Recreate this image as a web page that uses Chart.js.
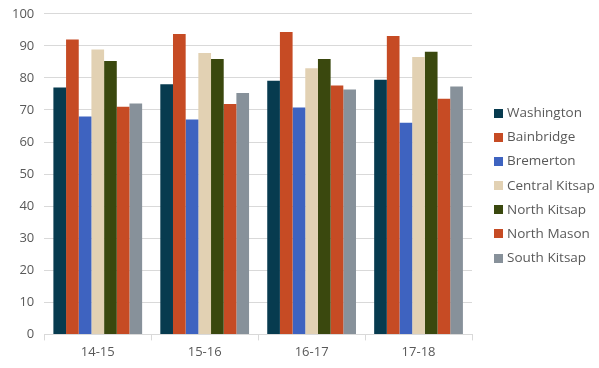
<!DOCTYPE html>
<html>
<head>
<meta charset="utf-8">
<script src="https://cdn.jsdelivr.net/npm/chart.js@4/dist/chart.umd.min.js"></script>
<style>
    html, body { margin: 0; padding: 0; background: #fff; overflow: hidden; }
    #wrap { position: relative; width: 599px; height: 368px; overflow: hidden; }
    #mainChart { position: absolute; left: 0; top: -4px; }
    #legend {
        position: absolute; left: 494px; top: 103px;
        font-family: 'Open Sans', sans-serif; font-size: 13.5px; color: #595959;
    }
    .item { height: 24.2px; line-height: 18px; white-space: nowrap; }
    .box { display: inline-block; width: 9px; height: 9px; margin-right: 4px; vertical-align: -0.5px; }
</style>
</head>
<body>
<div id="wrap">
    <canvas id="mainChart" width="599" height="372"></canvas>
    <div id="legend"></div>
</div>
<script>
// Data
const years = ['14-15', '15-16', '16-17', '17-18'];
const washington = [77, 78, 79.1, 79.4];
const bainbridge = [92, 93.7, 94.3, 93.1];
const bremerton = [68, 67, 70.8, 66];
const centralKitsap = [88.9, 87.8, 83, 86.5];
const northKitsap = [85.3, 85.9, 85.9, 88.2];
const northMason = [71, 71.9, 77.6, 73.5];
const southKitsap = [72, 75.3, 76.4, 77.3];
const yTicks = [0, 10, 20, 30, 40, 50, 60, 70, 80, 90, 100];

const series = [
    { label: 'Washington', data: washington, color: '#073B4F' },
    { label: 'Bainbridge', data: bainbridge, color: '#C64B24' },
    { label: 'Bremerton', data: bremerton, color: '#3E63C0' },
    { label: 'Central Kitsap', data: centralKitsap, color: '#E2D1B3' },
    { label: 'North Kitsap', data: northKitsap, color: '#3A480E' },
    { label: 'North Mason', data: northMason, color: '#C64B24' },
    { label: 'South Kitsap', data: southKitsap, color: '#87919A' }
];

const ctx = document.getElementById('mainChart');
const chart = new Chart(ctx, {
    type: 'bar',
    data: {
        labels: years,
        datasets: series.map(s => ({
            label: s.label,
            data: s.data,
            backgroundColor: s.color,
            borderWidth: 0,
            barPercentage: 1,
            categoryPercentage: 0.83
        }))
    },
    options: {
        responsive: false,
        animation: false,
        layout: { padding: { top: 0, left: 2, right: 127, bottom: 4 } },
        plugins: {
            legend: { display: false },
            tooltip: { enabled: false }
        },
        scales: {
            y: {
                min: 0,
                max: 100,
                afterBuildTicks: axis => { axis.ticks = yTicks.map(v => ({ value: v })); },
                grid: { color: '#D9D9D9', tickLength: 0 },
                border: { display: false },
                ticks: {
                    color: '#595959',
                    padding: 10,
                    font: { family: 'Open Sans', size: 13 }
                }
            },
            x: {
                grid: {
                    offset: true,
                    drawOnChartArea: false,
                    color: '#D9D9D9',
                    tickLength: 6
                },
                border: { color: '#D9D9D9' },
                ticks: {
                    color: '#595959',
                    padding: 4,
                    font: { family: 'Open Sans', size: 13 }
                }
            }
        }
    }
});

// Legend (html)
const legend = document.getElementById('legend');
chart.data.datasets.forEach(ds => {
    const row = document.createElement('div');
    row.className = 'item';
    row.innerHTML = '<span class="box" style="background:' + ds.backgroundColor + '"></span>' + ds.label;
    legend.appendChild(row);
});
</script>
</body>
</html>
